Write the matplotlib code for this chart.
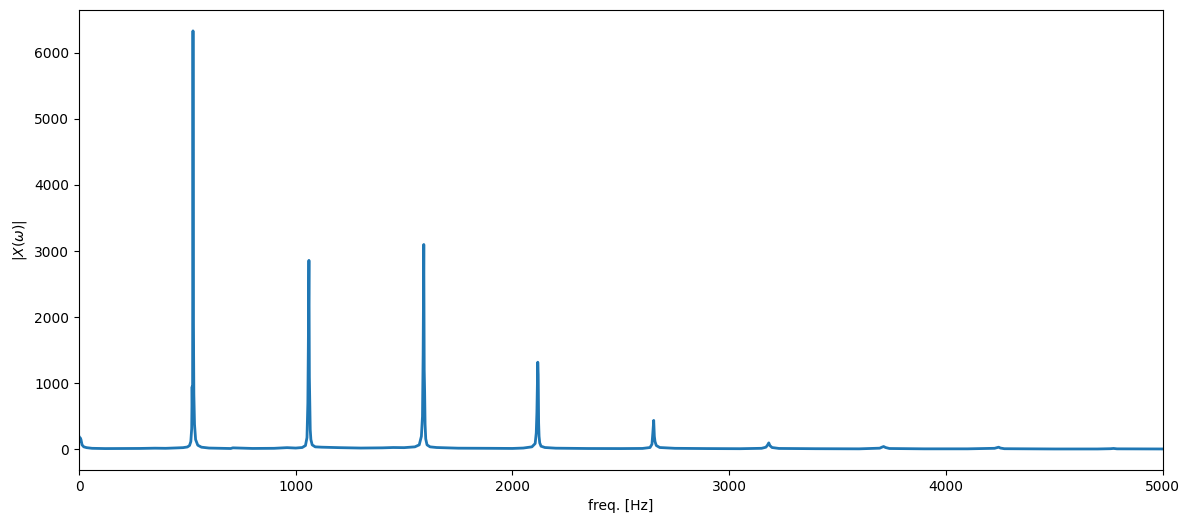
import matplotlib
matplotlib.use("Agg")
import matplotlib.pyplot as plt
import numpy as np

# magnitude spectrum (freq in Hz, |X|)
freq = [0, 3, 6, 9, 14, 22, 35, 60, 120, 200, 280, 350, 400, 450, 480, 500, 510,
        516, 520, 522, 524, 526, 528, 530, 533, 538, 548, 565, 600, 700, 710, 800,
        900, 960, 1000, 1030, 1045, 1052, 1056, 1058, 1061, 1063, 1065, 1067, 1070,
        1076, 1090, 1120, 1200, 1300, 1400, 1450, 1500, 1550, 1570, 1580, 1585,
        1588, 1591, 1593, 1595, 1597, 1600, 1606, 1620, 1650, 1750, 1900, 2000,
        2050, 2090, 2105, 2110, 2113, 2117, 2119, 2121, 2123, 2126, 2132, 2150,
        2200, 2350, 2500, 2600, 2635, 2644, 2648, 2652, 2655, 2658, 2664, 2680,
        2750, 2900, 3050, 3150, 3170, 3178, 3183, 3188, 3198, 3230, 3400, 3600,
        3695, 3705, 3713, 3722, 3740, 3900, 4100, 4225, 4236, 4244, 4252, 4270,
        4500, 4700, 4760, 4774, 4790, 5000]
mag = [190, 120, 175, 150, 70, 40, 28, 18, 14, 15, 16, 20, 18, 24, 28, 38, 60,
       120, 320, 950, 480, 6330, 1900, 830, 380, 150, 65, 35, 22, 15, 25, 16,
       18, 28, 22, 30, 60, 180, 700, 1480, 2860, 1100, 700, 300, 150,
       70, 40, 35, 28, 22, 25, 30, 28, 40, 70, 200, 500,
       1440, 3100, 1200, 860, 380, 160, 70, 40, 30, 20, 18, 16,
       22, 40, 90, 250, 560, 1320, 1130, 400, 200, 100, 50, 30,
       20, 15, 14, 16, 30, 80, 250, 440, 200, 120, 60, 30,
       18, 14, 12, 18, 35, 70, 100, 60, 30, 16, 12, 10,
       20, 35, 45, 30, 15, 10, 10, 18, 28, 35, 22, 12,
       8, 8, 12, 16, 10, 8]

fig = plt.figure(figsize=(11.9, 5.25), dpi=100)
ax = fig.add_axes([0.0664, 0.105, 0.9105, 0.876])
ax.plot(freq, mag, color="C0", linewidth=2)
ax.set_xlim(0, 5000)
ax.set_xlabel("freq. [Hz]")
ax.set_ylabel(r"$|X(\omega)|$")
plt.savefig("out.png")
